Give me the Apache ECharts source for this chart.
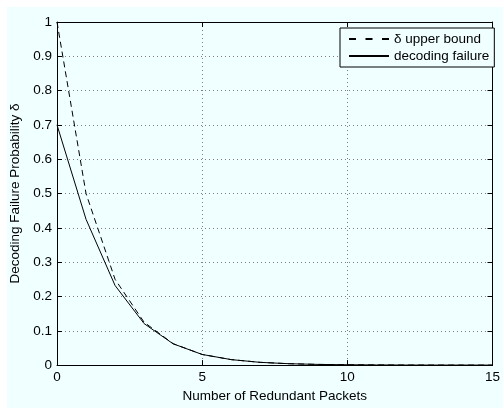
<!DOCTYPE html>
<html>
<head>
<meta charset="utf-8">
<script src="https://cdn.jsdelivr.net/npm/echarts@6/dist/echarts.min.js"></script>
<style>
  html, body { margin: 0; padding: 0; background: #ffffff; }
  #chart { width: 503px; height: 408px; }
</style>
</head>
<body>
<div id="chart"></div>
<script>
// Number of redundant packets on the x axis
const redundantPackets = [0, 1, 2, 3, 4, 5, 6, 7, 8, 9, 10, 11, 12, 13, 14, 15];
// Upper bound of the decoding failure probability (dashed curve)
const upperBound = [1.0, 0.5, 0.25, 0.125, 0.0625, 0.031, 0.016, 0.008, 0.004, 0.002, 0.001, 0.0005, 0.0002, 0.0001, 0.0001, 0.0];
// Measured decoding failure probability (solid curve)
const decodingFailure = [0.70, 0.425, 0.232, 0.121, 0.062, 0.031, 0.016, 0.008, 0.004, 0.002, 0.001, 0.0005, 0.0002, 0.0001, 0.0001, 0.0];
// Tick labels
const xTicks = [0, 5, 10, 15];
const yTicks = [0, 0.1, 0.2, 0.3, 0.4, 0.5, 0.6, 0.7, 0.8, 0.9, 1];

const FONT = "'Liberation Sans', Arial, Helvetica, sans-serif";
const FS = 13.5;
const FIGURE_BG = '#f0ffff';
const pairs = (ys) => redundantPackets.map((x, i) => [x, ys[i]]);

const dotted = { show: true, lineStyle: { color: '#7f7f7f', type: [1, 3], width: 1 } };
const boxLine = { show: true, onZero: false, lineStyle: { color: '#000', width: 1 } };
const innerTick = { show: true, inside: true, length: 5, lineStyle: { color: '#000', width: 1 } };

const chart = echarts.init(document.getElementById('chart'), null, { renderer: 'canvas' });
chart.setOption({
  backgroundColor: '#ffffff',
  animation: false,
  textStyle: { fontFamily: FONT },
  // light cyan figure area, leaving a thin white margin at the top and left
  graphic: [{
    type: 'rect', left: 7, top: 7, z: -100, silent: true,
    shape: { width: 520, height: 420 },
    style: { fill: FIGURE_BG }
  }],
  grid: { left: 57, right: 3, top: 22, bottom: 36, containLabel: false },
  legend: {
    orient: 'vertical',
    left: 340,
    top: 28,
    padding: [4, 5, 4, 8],
    itemGap: 3,
    itemWidth: 40,
    itemHeight: 14,
    backgroundColor: FIGURE_BG,
    borderColor: '#000',
    borderWidth: 1,
    borderRadius: 0,
    itemStyle: { opacity: 0 },
    textStyle: { fontSize: FS, color: '#000', fontFamily: FONT },
    data: [
      { name: 'δ upper bound', lineStyle: { type: [7, 9.5] } },
      { name: 'decoding failure' }
    ]
  },
  xAxis: [
    {
      type: 'value', min: 0, max: 15, interval: 5,
      name: 'Number of Redundant Packets', nameLocation: 'middle', nameGap: 20,
      nameTextStyle: { fontSize: FS, color: '#000', fontFamily: FONT },
      axisLine: boxLine, axisTick: innerTick, splitLine: dotted,
      axisLabel: {
        fontSize: FS, color: '#000', margin: 5, fontFamily: FONT,
        formatter: (v) => (xTicks.includes(v) ? String(v) : '')
      }
    },
    {
      type: 'value', min: 0, max: 15, interval: 5, position: 'top',
      axisLine: boxLine, axisTick: innerTick, splitLine: { show: false },
      axisLabel: { show: false }
    }
  ],
  yAxis: [
    {
      type: 'value', min: 0, max: 1, interval: 0.1,
      name: 'Decoding Failure Probability δ', nameLocation: 'middle', nameGap: 34,
      nameTextStyle: { fontSize: FS, color: '#000', fontFamily: FONT },
      axisLine: boxLine, axisTick: innerTick, splitLine: dotted,
      axisLabel: {
        fontSize: FS, color: '#000', margin: 5, fontFamily: FONT,
        formatter: (v) => {
          const t = yTicks.find((y) => Math.abs(y - v) < 1e-9);
          return t === undefined ? '' : String(t);
        }
      }
    },
    {
      type: 'value', min: 0, max: 1, interval: 0.1, position: 'right',
      axisLine: boxLine, axisTick: innerTick, splitLine: { show: false },
      axisLabel: { show: false }
    }
  ],
  series: [
    {
      name: 'δ upper bound', type: 'line', xAxisIndex: 0, yAxisIndex: 0,
      data: pairs(upperBound), symbol: 'none', showSymbol: false,
      lineStyle: { color: '#000', width: 1, type: [6, 4] },
      itemStyle: { color: '#000' }
    },
    {
      name: 'decoding failure', type: 'line', xAxisIndex: 0, yAxisIndex: 0,
      data: pairs(decodingFailure), symbol: 'none', showSymbol: false,
      lineStyle: { color: '#000', width: 1, type: 'solid' },
      itemStyle: { color: '#000' }
    }
  ]
});
</script>
</body>
</html>
